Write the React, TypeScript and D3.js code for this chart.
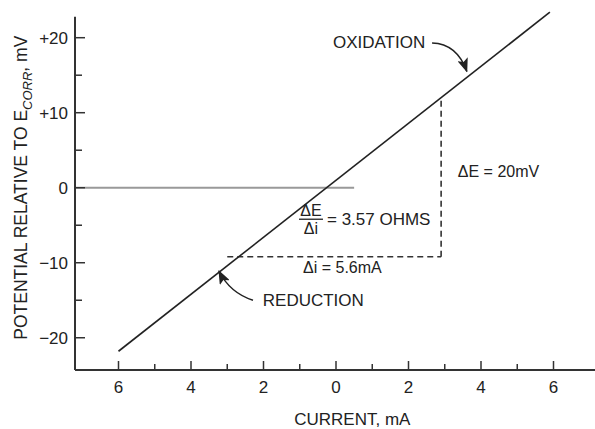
import React from "react";
import * as d3 from "d3";

// Polarization curve near the corrosion potential
const linePoints: [number, number][] = [
  [-6.0, -21.8],
  [5.9, 23.4],
];
// Zero-current reference (E = Ecorr)
const zeroLine: [number, number][] = [
  [-7.2, 0],
  [0.5, 0],
];
// Slope triangle corners: current span and potential span
const deltaI: [number, number] = [-3.0, 2.9];
const deltaE: [number, number] = [-9.2, 12.0];

const xMajorTicks = [-6, -4, -2, 0, 2, 4, 6];
const xMinorTicks = [-5, -3, -1, 1, 3, 5];
const yMajorTicks = [-20, -10, 0, 10, 20];
const yMinorTicks = [-15, -5, 5, 15];
const yTickLabels = ["\u221220", "\u221210", "0", "+10", "+20"];

const W = 595;
const H = 429;
const FONT = "'Liberation Sans', Arial, Helvetica, sans-serif";
const INK = "#222";

export default function App() {
  const x = d3.scaleLinear().domain([-7.2, 7.2]).range([75, 597]);
  const y = d3.scaleLinear().domain([-24.3, 22.8]).range([370, 16.7]);
  const line = d3
    .line<[number, number]>()
    .x((d) => x(d[0]))
    .y((d) => y(d[1]));

  const x0 = x(-7.2);
  const yBase = y(-24.3);

  // Arrow paths (quadratic curves) defined in data space
  const oxStart: [number, number] = [2.65, 19.3];
  const oxCtrl: [number, number] = [3.34, 19.2];
  const oxTip: [number, number] = [3.61, 15.5];
  const redStart: [number, number] = [-2.29, -15.0];
  const redCtrl: [number, number] = [-2.93, -14.0];
  const redTip: [number, number] = [-3.23, -11.1];
  const quad = (a: [number, number], c: [number, number], b: [number, number]) =>
    `M${x(a[0])},${y(a[1])} Q${x(c[0])},${y(c[1])} ${x(b[0])},${y(b[1])}`;

  const fracX = x(-0.69);
  const fracY = y(-4.2);

  return (
    <svg
      width={W}
      height={H}
      viewBox={`0 0 ${W} ${H}`}
      style={{ position: "absolute", left: 0, top: 0, background: "#fff" }}
      fontFamily={FONT}
    >
      <defs>
        <marker
          id="head"
          viewBox="0 0 14 11"
          refX="13"
          refY="5.5"
          markerWidth="14"
          markerHeight="11"
          markerUnits="userSpaceOnUse"
          orient="auto"
        >
          <path d="M0,0 L14,5.5 L0,11 L3,5.5 Z" fill={INK} />
        </marker>
      </defs>

      {/* zero-current reference line */}
      <path d={line(zeroLine) || ""} stroke="#999" strokeWidth={2} fill="none" />

      {/* axes */}
      <line x1={x0} x2={x0} y1={y(22.8)} y2={yBase} stroke="#333" strokeWidth={2} />
      <line x1={x0} x2={W} y1={yBase} y2={yBase} stroke="#333" strokeWidth={2} />

      {yMajorTicks.map((t, i) => (
        <g key={`ym${t}`}>
          <line x1={x0} x2={x0 + 10} y1={y(t)} y2={y(t)} stroke="#333" strokeWidth={1.5} />
          <text x={x0 - 7} y={y(t)} dy="0.36em" textAnchor="end" fontSize={17} fill={INK}>
            {yTickLabels[i]}
          </text>
        </g>
      ))}
      {yMinorTicks.map((t) => (
        <line key={`yn${t}`} x1={x0} x2={x0 + 7} y1={y(t)} y2={y(t)} stroke="#333" strokeWidth={1.5} />
      ))}

      {xMajorTicks.map((t) => (
        <g key={`xm${t}`}>
          <line x1={x(t)} x2={x(t)} y1={yBase} y2={yBase - 9} stroke="#333" strokeWidth={1.5} />
          <text x={x(t)} y={yBase + 23} textAnchor="middle" fontSize={17} fill={INK}>
            {Math.abs(t)}
          </text>
        </g>
      ))}
      {xMinorTicks.map((t) => (
        <line key={`xn${t}`} x1={x(t)} x2={x(t)} y1={yBase} y2={yBase - 6} stroke="#333" strokeWidth={1.5} />
      ))}

      {/* axis titles */}
      <text x={x(0.45)} y={425} textAnchor="middle" fontSize={17} fill={INK}>
        CURRENT, mA
      </text>
      <text
        transform={`translate(27,${y(0)}) rotate(-90)`}
        textAnchor="middle"
        fontSize={17.5}
        fill={INK}
      >
        POTENTIAL RELATIVE TO E
        <tspan fontSize={13} fontStyle="italic" dy={5}>CORR</tspan>
        <tspan dy={-5}>, mV</tspan>
      </text>

      {/* slope triangle */}
      <line
        x1={x(deltaI[0])}
        x2={x(deltaI[1])}
        y1={y(deltaE[0])}
        y2={y(deltaE[0])}
        stroke="#333"
        strokeWidth={1.6}
        strokeDasharray="6 4"
      />
      <line
        x1={x(deltaI[1])}
        x2={x(deltaI[1])}
        y1={y(deltaE[0])}
        y2={y(deltaE[1])}
        stroke="#333"
        strokeWidth={1.6}
        strokeDasharray="6 4"
      />

      {/* polarization line */}
      <path d={line(linePoints) || ""} stroke="#222" strokeWidth={1.6} fill="none" />

      {/* annotations */}
      <text x={fracX} y={fracY - 3} textAnchor="middle" fontSize={16} fill={INK}>
        ΔE
      </text>
      <line x1={fracX - 12} x2={fracX + 12} y1={fracY} y2={fracY} stroke={INK} strokeWidth={1.3} />
      <text x={fracX} y={fracY + 15} textAnchor="middle" fontSize={16} fill={INK}>
        Δi
      </text>
      <text x={fracX + 16} y={fracY + 6} fontSize={17} fill={INK}>
        = 3.57 OHMS
      </text>
      <text x={x(-0.91)} y={y(-11.37)} fontSize={16} fill={INK}>
        Δi = 5.6mA
      </text>
      <text x={x(3.36)} y={y(1.43)} fontSize={16} fill={INK}>
        ΔE = 20mV
      </text>

      <text x={x(2.46)} y={y(18.6)} textAnchor="end" fontSize={17} fill={INK}>
        OXIDATION
      </text>
      <path d={quad(oxStart, oxCtrl, oxTip)} stroke={INK} strokeWidth={1.5} fill="none" markerEnd="url(#head)" />

      <text x={x(-2.02)} y={y(-15.8)} fontSize={17} fill={INK}>
        REDUCTION
      </text>
      <path d={quad(redStart, redCtrl, redTip)} stroke={INK} strokeWidth={1.5} fill="none" markerEnd="url(#head)" />
    </svg>
  );
}
